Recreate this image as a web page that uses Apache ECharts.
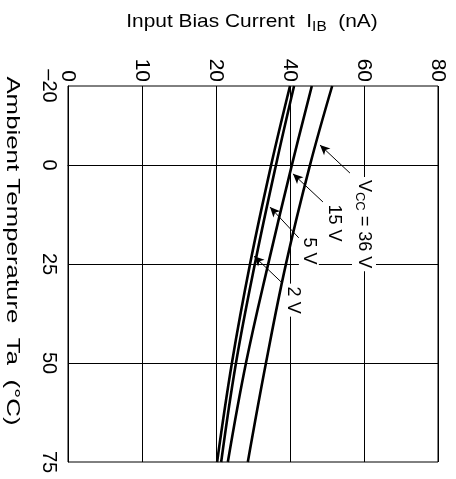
<!DOCTYPE html>
<html><head><meta charset="utf-8">
<script src="https://cdn.jsdelivr.net/npm/echarts@6/dist/echarts.min.js"></script>
<style>html,body{margin:0;padding:0;background:#fff}#c{width:456px;height:479px}</style>
</head><body><div id="c"></div>
<script>
// Ambient temperature (°C) sample points
const temperature = [-20, 0, 25, 50, 75];
// Input bias current (nA) for each supply voltage
const ib2V  = [40.0, 34.9, 29.2, 24.3, 20.3];
const ib5V  = [41.1, 36.2, 30.5, 25.4, 21.4];
const ib15V = [45.9, 40.5, 34.1, 28.1, 23.2];
const ib36V = [51.4, 45.4, 38.9, 33.5, 28.6];
// Axis ticks
const currentTicks = [0, 10, 20, 40, 60, 80];
const tempTicks = [-20, 0, 25, 50, 75];
const tempGrid = [0, 25, 50];
// Annotations: [current nA, temperature °C]
const labelTexts = ['{v|V}{s|CC}{v| = 36 V}', '15 V', '5 V', '2 V'];
const labelAt   = [[60, 14.9], [51.9, 14.6], [45.1, 21.7], [40.8, 34.1]];
const arrowFrom = [[56.2, 2.0], [48.9, 9.3], [42.4, 18.4], [37.6, 29.5]];
const arrowTo   = [[48.1, -5.1], [40.8, 2.2], [34.6, 10.6], [30.3, 23.0]];

// piecewise-linear current axis (equally spaced ticks 0,10,20,40,60,80)
function toAxis(v) {
  for (let i = 0; i < currentTicks.length - 1; i++) {
    if (v <= currentTicks[i + 1] || i === currentTicks.length - 2) {
      return i + (v - currentTicks[i]) / (currentTicks[i + 1] - currentTicks[i]);
    }
  }
}
const FONT = 'Liberation Sans, Arial, sans-serif';
const seriesData = [ib36V, ib15V, ib5V, ib2V];
const chart = echarts.init(document.getElementById('c'), null, {renderer: 'canvas'});
const series = seriesData.map((arr, k) => ({
  type: 'line',
  data: temperature.map((t, i) => [toAxis(arr[i]), t]),
  smooth: 0.4,
  symbol: 'none',
  silent: true,
  lineStyle: {color: '#000', width: 2.6},
  markLine: {
    silent: true,
    symbol: ['none', 'arrow'],
    symbolSize: [7, 10],
    label: {show: false},
    lineStyle: {color: '#000', width: 1, type: 'solid'},
    data: [[{coord: [toAxis(arrowFrom[k][0]), arrowFrom[k][1]]}, {coord: [toAxis(arrowTo[k][0]), arrowTo[k][1]]}]]
  }
}));
series.push({
  type: 'line', data: [], silent: true, symbol: 'none',
  markLine: {
    silent: true, symbol: ['none', 'none'], label: {show: false},
    lineStyle: {color: '#000', width: 1, type: 'solid'},
    data: tempGrid.map(t => ({yAxis: t}))
  }
});
chart.setOption({
  animation: false,
  backgroundColor: '#fff',
  grid: {left: 68, top: 86, right: 18, bottom: 17, show: true, borderColor: '#000', borderWidth: 1},
  xAxis: {
    type: 'value', position: 'top', min: 0, max: currentTicks.length - 1, interval: 1,
    axisLine: {show: true, lineStyle: {color: '#000'}},
    axisTick: {show: false},
    axisLabel: {rotate: -90, margin: 4, color: '#000', fontSize: 21, fontFamily: FONT,
      formatter: v => String(currentTicks[Math.round(v)])},
    splitLine: {show: true, lineStyle: {color: '#000', width: 1}}
  },
  yAxis: {
    type: 'value', inverse: true, min: -20, max: 75, interval: 5,
    axisLine: {show: true, lineStyle: {color: '#000'}},
    axisTick: {show: false},
    axisLabel: {rotate: -90, margin: 9, color: '#000', fontSize: 20, fontFamily: FONT,
      formatter: v => tempTicks.includes(v) ? (v < 0 ? '\u2013' + (-v) : String(v)) : ''},
    splitLine: {show: false}
  },
  series: series
});

const graphics = [
  {type: 'text', x: 252, y: 22, z: 100, silent: true, scaleX: 1.1,
    style: {text: '{a|Input Bias Current  I}{s|IB}{a|  (nA)}', align: 'center', verticalAlign: 'middle', fill: '#000',
      rich: {a: {fontSize: 19, fontFamily: FONT, lineHeight: 24}, s: {fontSize: 14, fontFamily: FONT, verticalAlign: 'bottom', lineHeight: 14}}}},
  {type: 'text', x: 12, y: 251, rotation: -Math.PI / 2, scaleX: 1.36, z: 100, silent: true,
    style: {text: 'Ambient Temperature  Ta  (\u00B0C)', align: 'center', verticalAlign: 'middle', fill: '#000', font: '19px ' + FONT}}
];
labelTexts.forEach((txt, k) => {
  const p = chart.convertToPixel({gridIndex: 0}, [toAxis(labelAt[k][0]), labelAt[k][1]]);
  graphics.push({type: 'text', x: p[0], y: p[1], rotation: -Math.PI / 2, z: 100, silent: true,
    style: {text: txt, align: 'center', verticalAlign: 'middle', fill: '#000', backgroundColor: '#fff', padding: [1, 3],
      fontSize: 18, fontFamily: FONT,
      rich: {v: {fontSize: 18, fontFamily: FONT, lineHeight: 22}, s: {fontSize: 13, fontFamily: FONT, verticalAlign: 'bottom', lineHeight: 13}}}});
});
chart.setOption({graphic: graphics});
</script></body></html>
